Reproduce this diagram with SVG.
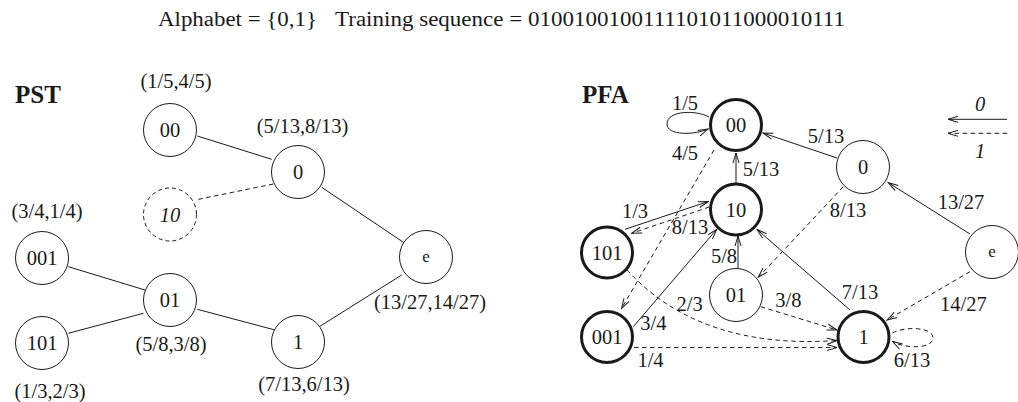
<svg xmlns="http://www.w3.org/2000/svg" width="1018" height="402" viewBox="0 0 1018 402" font-family="'Liberation Serif', 'DejaVu Serif', serif">
  <style>
    text { font-family: "Liberation Serif", "DejaVu Serif", serif; fill: #1a1a1a; }
    .lbl { font-size: 20.5px; text-anchor: middle; }
    .nt { font-size: 20.5px; text-anchor: middle; }
    .small { font-size: 17px; text-anchor: middle; }
    .it { font-style: italic; }
    .head { font-size: 25px; font-weight: bold; }
    .node { fill: #ffffff; stroke: #1a1a1a; stroke-width: 1; }
    .bold { stroke-width: 3; }
    .dcirc { stroke-dasharray: 4 3; }
    .edge { fill: none; stroke: #1a1a1a; stroke-width: 1; }
    .dash { stroke-dasharray: 4.5 3.5; }
    .arr { marker-end: url(#ah); }
  </style>
  <defs>
    <marker id="ah" viewBox="-11 -4 12 8" refX="0" refY="0" markerWidth="12" markerHeight="8" markerUnits="userSpaceOnUse" orient="auto">
      <path d="M-10,-3 L0,0 L-10,3" fill="none" stroke="#1a1a1a" stroke-width="1" stroke-dasharray="none"/>
    </marker>
  </defs>

  <!-- heading line -->
  <text x="158" y="26" style="font-size:20.5px" textLength="159" lengthAdjust="spacingAndGlyphs">Alphabet = {0,1}</text>
  <text x="335" y="26" style="font-size:20.5px" textLength="510" lengthAdjust="spacingAndGlyphs">Training sequence = 0100100100111101011000010111</text>

  <!-- ===================== PST ===================== -->
  <text class="head" x="15" y="103">PST</text>

  <g id="pst-edges">
    <line class="edge" x1="197.3" y1="136" x2="271.7" y2="159.3"/>
    <line class="edge dash" x1="273.3" y1="184" x2="195" y2="200"/>
    <line class="edge" x1="321.7" y1="187.3" x2="404" y2="242.7"/>
    <line class="edge" x1="401.7" y1="275" x2="319.3" y2="326.7"/>
    <line class="edge" x1="197.3" y1="309.3" x2="275" y2="330"/>
    <line class="edge" x1="68.3" y1="266.7" x2="145" y2="290"/>
    <line class="edge" x1="68.3" y1="333.3" x2="143.3" y2="313.3"/>
  </g>

  <g id="pst-00">
    <circle class="node" cx="170" cy="130" r="26.5"/>
    <text class="nt" x="170" y="137">00</text>
    <text class="lbl" x="176" y="88">(1/5,4/5)</text>
  </g>
  <g id="pst-0">
    <circle class="node" cx="298" cy="172" r="26.5"/>
    <text class="nt" x="298" y="179">0</text>
    <text class="lbl" x="302.5" y="133">(5/13,8/13)</text>
  </g>
  <g id="pst-10">
    <circle class="node dcirc" cx="170" cy="214.5" r="26.5"/>
    <text class="nt it" x="170" y="221.5">10</text>
  </g>
  <g id="pst-001">
    <circle class="node" cx="42" cy="258" r="26.5"/>
    <text class="nt" x="42" y="265">001</text>
    <text class="lbl" x="47" y="218">(3/4,1/4)</text>
  </g>
  <g id="pst-01">
    <circle class="node" cx="170" cy="300" r="26.5"/>
    <text class="nt" x="170" y="307">01</text>
    <text class="lbl" x="171" y="351">(5/8,3/8)</text>
  </g>
  <g id="pst-101">
    <circle class="node" cx="42" cy="343" r="26.5"/>
    <text class="nt" x="42" y="350">101</text>
    <text class="lbl" x="50" y="398">(1/3,2/3)</text>
  </g>
  <g id="pst-1">
    <circle class="node" cx="298" cy="342" r="26.5"/>
    <text class="nt" x="298" y="349">1</text>
    <text class="lbl" x="304" y="391">(7/13,6/13)</text>
  </g>
  <g id="pst-e">
    <circle class="node" cx="426" cy="257" r="26.5"/>
    <text class="small" x="426" y="262">e</text>
    <text class="lbl" x="430" y="309">(13/27,14/27)</text>
  </g>

  <!-- ===================== PFA ===================== -->
  <text class="head" x="582" y="103">PFA</text>

  <!-- legend -->
  <g id="legend">
    <text class="lbl it" x="980" y="111">0</text>
    <line class="edge arr" x1="1007" y1="119.3" x2="948" y2="119.3"/>
    <line class="edge dash arr" x1="1007" y1="133.3" x2="948" y2="133.3"/>
    <text class="lbl it" x="980" y="158">1</text>
  </g>

  <g id="pfa-edges">
    <!-- symbol 0 (solid) -->
    <line class="edge arr" x1="837" y1="158" x2="763" y2="133"/>
    <line class="edge arr" x1="736" y1="183" x2="736" y2="153"/>
    <path class="edge arr" d="M709,117 C697,110 667,110 667,124 C667,136 695,135 708,129"/>
    <line class="edge arr" x1="625" y1="229.3" x2="708.3" y2="201.5"/>
    <line class="edge arr" x1="633.3" y1="326.7" x2="716.7" y2="229.3"/>
    <line class="edge arr" x1="738" y1="268.5" x2="738" y2="236"/>
    <line class="edge arr" x1="850" y1="310" x2="757" y2="229.5"/>
    <line class="edge arr" x1="970" y1="234" x2="888.3" y2="182.7"/>
    <!-- symbol 1 (dashed) -->
    <line class="edge dash arr" x1="714" y1="150" x2="621.5" y2="308.5"/>
    <line class="edge dash arr" x1="709.3" y1="207" x2="631.7" y2="233.3"/>
    <line class="edge dash arr" x1="843.3" y1="186.7" x2="758.3" y2="277.3"/>
    <line class="edge dash arr" x1="970" y1="271.7" x2="887" y2="320"/>
    <line class="edge dash arr" x1="760.7" y1="306.7" x2="837" y2="330"/>
    <path class="edge dash arr" d="M627,270 Q700,350 837,340.5"/>
    <line class="edge dash arr" x1="634" y1="347.5" x2="837" y2="347.5"/>
    <path class="edge dash arr" d="M892.5,333 C905,326 933,327 933,338 C933,349 905,349 892.5,341.5"/>
  </g>

  <g id="pfa-labels">
    <text class="lbl" x="685" y="110">1/5</text>
    <text class="lbl" x="685" y="160">4/5</text>
    <text class="lbl" x="826" y="142.7">5/13</text>
    <text class="lbl" x="761" y="176">5/13</text>
    <text class="lbl" x="635" y="218.3">1/3</text>
    <text class="lbl" x="690" y="234">8/13</text>
    <text class="lbl" x="848" y="216.7">8/13</text>
    <text class="lbl" x="961" y="209.3">13/27</text>
    <text class="lbl" x="724" y="263.3">5/8</text>
    <text class="lbl" x="860" y="299.3">7/13</text>
    <text class="lbl" x="788.3" y="307.3">3/8</text>
    <text class="lbl" x="689.7" y="310.7">2/3</text>
    <text class="lbl" x="963.3" y="310.7">14/27</text>
    <text class="lbl" x="653.3" y="330">3/4</text>
    <text class="lbl" x="650.5" y="366.7">1/4</text>
    <text class="lbl" x="912" y="366.7">6/13</text>
  </g>

  <g id="pfa-00">
    <circle class="node bold" cx="736" cy="125" r="25.5"/>
    <text class="nt" x="736" y="132">00</text>
  </g>
  <g id="pfa-0">
    <circle class="node" cx="863" cy="167" r="26.5"/>
    <text class="nt" x="863" y="174">0</text>
  </g>
  <g id="pfa-10">
    <circle class="node bold" cx="736" cy="209.5" r="25.5"/>
    <text class="nt" x="736" y="216.5">10</text>
  </g>
  <g id="pfa-101">
    <circle class="node bold" cx="607" cy="252.5" r="25.5"/>
    <text class="nt" x="607" y="259.5">101</text>
  </g>
  <g id="pfa-01">
    <circle class="node" cx="736" cy="295" r="26.5"/>
    <text class="nt" x="736" y="302">01</text>
  </g>
  <g id="pfa-001">
    <circle class="node bold" cx="607" cy="337" r="25.5"/>
    <text class="nt" x="607" y="344">001</text>
  </g>
  <g id="pfa-1">
    <circle class="node bold" cx="863.5" cy="337" r="25.5"/>
    <text class="nt" x="863.5" y="344">1</text>
  </g>
  <g id="pfa-e">
    <circle class="node" cx="992" cy="252" r="26.5"/>
    <text class="small" x="992" y="257">e</text>
  </g>
</svg>
